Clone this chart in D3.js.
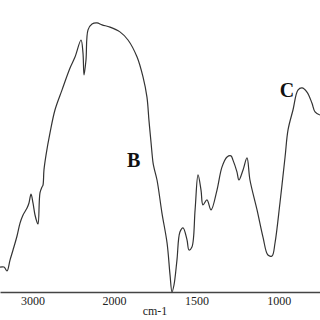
<!DOCTYPE html>
<html>
<head>
<meta charset="utf-8">
<script src="https://cdn.jsdelivr.net/npm/d3@7"></script>
<style>
  html, body { margin: 0; padding: 0; background: #fff; }
  svg { display: block; }
  .axis text { font-family: "Liberation Serif", "Times New Roman", serif; font-size: 12px; fill: #222; }
</style>
</head>
<body>
<div id="chart"></div>
<script>
// IR spectrum, wavenumber (cm-1) vs transmittance (arbitrary %)
const wavenumbers = [
  3400, 3351, 3314, 3277, 3240, 3191, 3154, 3117, 3068, 3044, 3019, 2995, 2970, 2946, 2933,
  2909, 2884, 2872, 2860, 2835, 2786, 2725, 2639, 2540, 2479, 2405, 2381, 2368, 2344, 2319,
  2270, 2209, 2147, 2049, 1964, 1915, 1860, 1824, 1800, 1788, 1775, 1763, 1757, 1739, 1709,
  1678, 1660, 1648, 1636, 1618, 1600, 1581, 1557, 1545, 1527, 1508, 1490, 1472, 1460, 1436,
  1411, 1375, 1345, 1314, 1290, 1278, 1254, 1242, 1217, 1193, 1175, 1132, 1096, 1066, 1041,
  1023, 993, 962, 944, 914, 884, 859, 829, 799, 780, 750
];
const transmittance = [
  8.9, 8.9, 7.5, 11.4, 15, 20, 24.6, 27.5, 30, 31.8, 35, 31.8, 27.5, 25, 24.3,
  35.4, 37.5, 38.2, 43.6, 48.9, 56.8, 65, 72.1, 80, 83.9, 90, 85.4, 77.5, 82.9, 93.6,
  95.7, 96.1, 95.4, 94.6, 92.9, 90, 83.9, 76.8, 69.6, 61.4, 53.2, 46.1, 44.3, 40, 28.2,
  17.5, 6.1, 0, 2.5, 11.4, 21.4, 22.9, 18.6, 15, 16.1, 29.3, 41.8, 36.4, 31.1, 32.9,
  29.3, 36.4, 44.6, 48.2, 48.6, 47.1, 42.9, 40, 43.6, 47.9, 40, 29.3, 19.6, 13.2, 12.9,
  17.5, 31.8, 48.2, 57.9, 65, 72.1, 72.9, 71.4, 67.5, 64.3, 63.2
];
const tickValues = [3000, 2000, 1500, 1000];
const xLabel = "cm-1";
const peakLabels = [
  { text: "B", wn: 1880, t: 44.6 },
  { text: "C", wn: 950, t: 69.6 }
];

const width = 320, height = 320;
const axisY = 292;

const svg = d3.select('#chart')
  .append('svg')
  .attr('width', width)
  .attr('height', height);

// x axis is expanded 2x below 2000 cm-1, as on the instrument plot
const x = d3.scaleLinear()
  .domain([3400, 2000, 750])
  .range([0, 114, 320]);

const y = d3.scaleLinear()
  .domain([0, 100])
  .range([axisY, 12]);

const data = wavenumbers.map((w, i) => ({ wn: w, t: transmittance[i] }));

// axis
svg.append('g')
  .attr('class', 'axis')
  .attr('transform', `translate(0,${axisY})`)
  .call(d3.axisBottom(x).tickValues(tickValues).tickFormat(d3.format('d')).tickSize(0).tickPadding(4))
  .call(g => g.select('.domain').attr('stroke', '#444').attr('stroke-width', 1.4));

svg.append('text')
  .attr('x', 155)
  .attr('y', 315)
  .attr('text-anchor', 'middle')
  .attr('font-family', '"Liberation Serif", "Times New Roman", serif')
  .attr('font-size', '12px')
  .attr('fill', '#222')
  .text(xLabel);

// spectrum
const line = d3.line()
  .x(d => x(d.wn))
  .y(d => y(d.t))
  .curve(d3.curveCatmullRom.alpha(0.5));

svg.append('path')
  .datum(data)
  .attr('fill', 'none')
  .attr('stroke', '#333')
  .attr('stroke-width', 1.2)
  .attr('d', line);

// peak letters
svg.selectAll('.peak-label')
  .data(peakLabels)
  .enter()
  .append('text')
  .attr('class', 'peak-label')
  .attr('x', d => x(d.wn))
  .attr('y', d => y(d.t))
  .attr('text-anchor', 'middle')
  .attr('font-family', '"Liberation Serif", "Times New Roman", serif')
  .attr('font-weight', 'bold')
  .attr('font-size', '20px')
  .attr('fill', '#111')
  .text(d => d.text);
</script>
</body>
</html>
